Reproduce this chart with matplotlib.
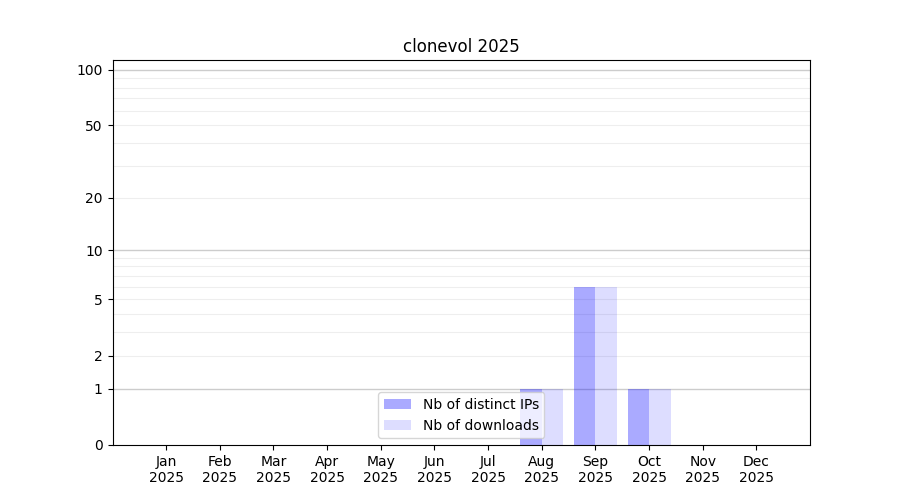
import numpy as np
import matplotlib
matplotlib.use("Agg")
import matplotlib.pyplot as plt
from matplotlib.ticker import FixedLocator

months = ["Jan", "Feb", "Mar", "Apr", "May", "Jun", "Jul", "Aug", "Sep", "Oct", "Nov", "Dec"]
year = "2025"
distinct_ips = [0, 0, 0, 0, 0, 0, 0, 1, 6, 1, 0, 0]
downloads = [0, 0, 0, 0, 0, 0, 0, 1, 6, 1, 0, 0]
ytick_vals = [0, 1, 2, 5, 10, 20, 50, 100]

fig, ax = plt.subplots(figsize=(9, 5), dpi=100)
x = np.arange(len(months))
ax.bar(x - 0.2, distinct_ips, width=0.4, color="blue", alpha=1/3, label="Nb of distinct IPs", zorder=2)
ax.bar(x + 0.2, downloads, width=0.4, color="blue", alpha=0.135, label="Nb of downloads", zorder=2)

ax.set_yscale("function", functions=(lambda v: np.log10(1 + np.clip(v, -0.999, None)),
                                     lambda v: 10 ** v - 1))
ax.set_ylim(0, 113)
ax.set_xlim(-1, 12)
ax.yaxis.set_major_locator(FixedLocator(ytick_vals))
ax.set_yticklabels([str(v) for v in ytick_vals])
minor = [2, 3, 4, 5, 6, 7, 8, 9, 20, 30, 40, 50, 60, 70, 80, 90]
ax.yaxis.set_minor_locator(FixedLocator(minor))
ax.tick_params(axis="y", which="minor", length=0)
for v in [1, 10, 100]:
    ax.axhline(v, color="#cccccc", linewidth=1, zorder=1)
for v in minor:
    ax.axhline(v, color="#eeeeee", linewidth=0.8, zorder=0.9)

ax.set_xticks(x)
ax.set_xticklabels([f"{m}\n{year}" for m in months])
ax.set_title("clonevol 2025")
ax.legend(loc="lower center")
fig.savefig("out.png")
